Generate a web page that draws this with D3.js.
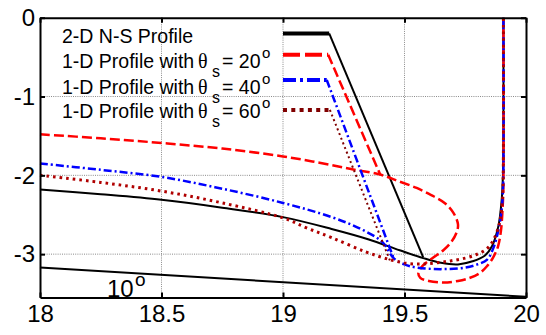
<!DOCTYPE html>
<html>
<head>
<meta charset="utf-8">
<script src="https://cdn.jsdelivr.net/npm/d3@7"></script>
<style>
  body { margin: 0; background: #fff; }
  svg { display: block; }
  text { font-family: "Liberation Sans", Arial, sans-serif; fill: #000; }
</style>
</head>
<body>
<svg id="chart" width="546" height="335"></svg>
<script>
// Axis ticks
const xTicks = [18, 18.5, 19, 19.5, 20];
const yTicks = [0, -1, -2, -3];

// 2-D Navier-Stokes profile
const nsX = [18, 18.25, 18.5, 18.75, 19, 19.2, 19.35, 19.48, 19.577, 19.65, 19.72, 19.78, 19.83, 19.86, 19.886, 19.9, 19.905, 19.907, 19.907];
const nsY = [-2.18, -2.24, -2.31, -2.41, -2.53, -2.68, -2.81, -2.95, -3.05, -3.11, -3.13, -3.09, -3.02, -2.9, -2.65, -2.31, -2.0, -1.5, 0];

// 1-D profiles for the three shock angles
const s20X = [18, 18.25, 18.5, 18.75, 19, 19.15, 19.28, 19.4, 19.48, 19.55, 19.61, 19.665, 19.7, 19.72, 19.715, 19.694, 19.66, 19.62, 19.577, 19.557, 19.565, 19.6, 19.66, 19.72, 19.77, 19.81, 19.84, 19.865, 19.885, 19.897, 19.904, 19.907, 19.907];
const s20Y = [-1.48, -1.53, -1.59, -1.66, -1.76, -1.84, -1.92, -1.99, -2.08, -2.16, -2.25, -2.35, -2.47, -2.62, -2.72, -2.84, -2.95, -3.04, -3.14, -3.24, -3.30, -3.34, -3.36, -3.34, -3.30, -3.24, -3.15, -3.04, -2.9, -2.7, -2.4, -2.1, 0];

const s40X = [18, 18.25, 18.5, 18.75, 19, 19.2, 19.32, 19.41, 19.455, 19.5, 19.55, 19.65, 19.75, 19.8, 19.84, 19.866, 19.886, 19.9, 19.906, 19.907];
const s40Y = [-1.85, -1.93, -2.02, -2.17, -2.35, -2.53, -2.68, -2.85, -3.05, -3.13, -3.17, -3.19, -3.17, -3.13, -3.07, -2.92, -2.7, -2.43, -2.1, 0];

const s60X = [18, 18.25, 18.5, 18.75, 19, 19.1, 19.2, 19.34, 19.44, 19.52, 19.6, 19.68, 19.75, 19.8, 19.84, 19.866, 19.89, 19.902, 19.906, 19.907];
const s60Y = [-2.0, -2.09, -2.2, -2.35, -2.54, -2.67, -2.79, -2.97, -3.07, -3.12, -3.12, -3.09, -3.05, -3.0, -2.93, -2.82, -2.62, -2.35, -2.05, 0];

// Legend keys and their leader lines down to each profile
const nsKeyX = [19.0, 19.19], nsKeyY = [-0.2, -0.2];
const nsLeadX = [19.19, 19.577], nsLeadY = [-0.2, -3.04];
const s20KeyX = [19.0, 19.186], s20KeyY = [-0.47, -0.47];
const s20LeadX = [19.186, 19.4], s20LeadY = [-0.47, -1.99];
const s40KeyX = [19.0, 19.18], s40KeyY = [-0.79, -0.79];
const s40LeadX = [19.18, 19.455], s40LeadY = [-0.79, -3.05];
const s60KeyX = [19.0, 19.193], s60KeyY = [-1.17, -1.17];
const s60LeadX = [19.193, 19.44], s60LeadY = [-1.17, -3.08];

// 10 degree reference line
const rampX = [18, 20];
const rampY = [-3.17, -3.54];
const rampLabel = "10";

const legendLabels = ["2-D N-S Profile", "1-D Profile with", "1-D Profile with", "1-D Profile with"];
const legendAngles = [null, 20, 40, 60];

const zip = (xs, ys) => xs.map((v, i) => [v, ys[i]]);

const svg = d3.select("#chart");
const x = d3.scaleLinear().domain([18, 20]).range([40, 526]);
const y = d3.scaleLinear().domain([-3.55, 0]).range([297.5, 17.7]);

// Dotted grid
const grid = svg.append("g").attr("stroke", "#8a8a8a").attr("stroke-width", 1).attr("stroke-dasharray", "1,1.2");
grid.selectAll(".gx").data(xTicks.slice(1, -1)).join("line")
  .attr("x1", d => x(d)).attr("x2", d => x(d))
  .attr("y1", y(0)).attr("y2", y(-3.55));
grid.selectAll(".gy").data(yTicks.filter(d => d !== 0)).join("line")
  .attr("y1", d => y(d)).attr("y2", d => y(d))
  .attr("x1", x(18)).attr("x2", x(20));

const smooth = d3.line().x(d => x(d[0])).y(d => y(d[1])).curve(d3.curveCatmullRom.alpha(0.5));
const straight = d3.line().x(d => x(d[0])).y(d => y(d[1]));

function draw(gen, pts, stroke, width, dash) {
  svg.append("path").attr("d", gen(pts))
    .attr("fill", "none").attr("stroke", stroke).attr("stroke-width", width)
    .attr("stroke-dasharray", dash || null).attr("stroke-linejoin", "round");
}

// 10 degree line
draw(straight, zip(rampX, rampY), "#000", 2);

// 2-D N-S profile
draw(smooth, zip(nsX, nsY), "#000", 2);
draw(straight, zip(nsLeadX, nsLeadY), "#000", 2);
draw(straight, zip(nsKeyX, nsKeyY), "#000", 4);

// theta_s = 20
draw(smooth, zip(s20X, s20Y), "#ff0000", 2.5, "10,4");
draw(straight, zip(s20LeadX, s20LeadY), "#ff0000", 2.5, "10,4");
draw(straight, zip(s20KeyX, s20KeyY), "#ff0000", 4, "17,5");

// theta_s = 40
draw(smooth, zip(s40X, s40Y), "#0000ff", 2.5, "8,3,2,3");
draw(straight, zip(s40LeadX, s40LeadY), "#0000ff", 2.5, "8,3,2,3");
draw(straight, zip(s40KeyX, s40KeyY), "#0000ff", 4, "13,4,3,4");

// theta_s = 60
draw(smooth, zip(s60X, s60Y), "#b00000", 3, "2.6,4");
draw(straight, zip(s60LeadX, s60LeadY), "#800000", 2, "2,3");
draw(straight, zip(s60KeyX, s60KeyY), "#800000", 4, "4,4.3");

// 10 degree label
const rl = svg.append("text").attr("x", 107).attr("y", 297).style("font-size", "24px");
rl.append("tspan").text(rampLabel);
rl.append("tspan").attr("x", 135).attr("y", 286).style("font-size", "19px").text("o");

// Axes (box with inward ticks)
const fmt = d => String(d);
function styleAxis(g) {
  g.select(".domain").attr("stroke", "#000").attr("stroke-width", 2);
  g.selectAll(".tick line").attr("stroke", "#000").attr("stroke-width", 2);
  g.selectAll(".tick text").style("font-size", "24px").style("font-family", "'Liberation Sans', Arial, sans-serif").attr("fill", "#000");
}
svg.append("g").attr("transform", `translate(0,${y(-3.55)})`)
  .call(d3.axisBottom(x).tickValues(xTicks).tickFormat(fmt).tickSize(-5).tickSizeOuter(0).tickPadding(7))
  .call(styleAxis);
svg.append("g").attr("transform", `translate(0,${y(0)})`)
  .call(d3.axisTop(x).tickValues(xTicks).tickFormat(() => "").tickSize(-5).tickSizeOuter(0))
  .call(styleAxis);
svg.append("g").attr("transform", `translate(${x(18)},0)`)
  .call(d3.axisLeft(y).tickValues(yTicks).tickFormat(fmt).tickSize(-5).tickSizeOuter(0).tickPadding(5))
  .call(styleAxis);
svg.append("g").attr("transform", `translate(${x(20)},0)`)
  .call(d3.axisRight(y).tickValues(yTicks).tickFormat(() => "").tickSize(-5).tickSizeOuter(0))
  .call(styleAxis);

// Legend text
const rowBase = [43, 68, 94, 118];
legendLabels.forEach((label, i) => {
  const t = svg.append("text").attr("x", 62).attr("y", rowBase[i]).style("font-size", "19.5px");
  t.append("tspan").text(label);
  const a = legendAngles[i];
  if (a !== null) {
    t.append("tspan").attr("x", 198).attr("y", rowBase[i])
      .style("font-family", "'Liberation Serif', 'Times New Roman', serif").style("font-size", "20px").text("θ");
    t.append("tspan").attr("x", 212).attr("y", rowBase[i] + 9).style("font-size", "16px").text("s");
    t.append("tspan").attr("x", 222).attr("y", rowBase[i]).text("= " + a);
    t.append("tspan").attr("x", 262).attr("y", rowBase[i] - 10).style("font-size", "15px").text("o");
  }
});
</script>
</body>
</html>
